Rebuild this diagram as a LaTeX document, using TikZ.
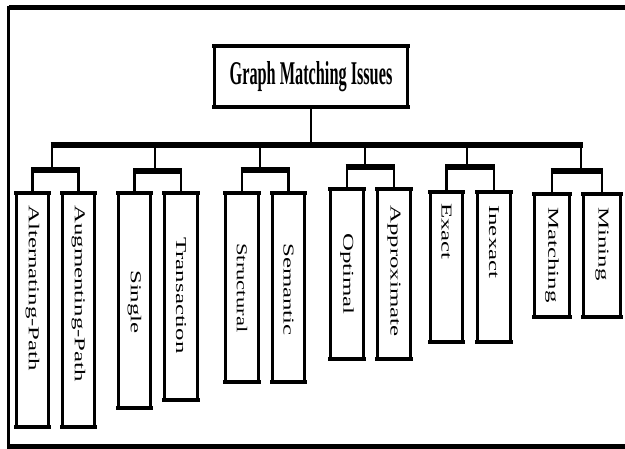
\documentclass[tikz,border=0pt]{standalone}
\usepackage{graphicx}
\usepackage{fontspec}
\setmainfont{Liberation Serif}
\usetikzlibrary{fit}

% stretch a label along its length
\newcommand{\longlbl}[2][1.65]{\scalebox{#1}[1]{#2}}

\begin{document}
\begin{tikzpicture}[x=0.75pt, y=-0.75pt,
		leaf/.style={draw, line width=2.4pt, inner sep=0pt, outer sep=0pt},
		edge/.style={line width=3.6pt, line cap=rect},
		lbl/.style={rotate=-90, anchor=west, inner sep=0pt, font=\fontsize{11.3}{13}\selectfont},
		stem/.style={line width=2pt},
		subbus/.style={line width=3.8pt, shorten <=-1pt, shorten >=-1pt},
		bus/.style={line width=4.6pt, shorten <=-1pt, shorten >=-1pt}]
		\useasboundingbox (0,0) rectangle (625,449);

		% frame
		\draw[line width=3.8pt] (8.5,7.5) -- (625,7.5);
		\draw[line width=2.4pt] (8.5,5.6) -- (8.5,448);
		\draw[line width=3.6pt] (7.3,446.5) -- (625,446.5);

		% root
		\node[leaf, fit={(214.5,46) (407.5,107)}] (top) {};
		\draw[edge] (top.north west) -- (top.north east);
		\draw[edge] (top.south west) -- (top.south east);
		\node[font=\fontsize{12.2}{14}\selectfont\bfseries] (topT) at (top.center) {\scalebox{1}[2.04]{Graph Matching Issues}};

		\coordinate (busL) at (52,145);
		\coordinate (busR) at (582,145);
		\draw[stem] (top.south) -- (top.south |- busL);
		\draw[bus] (busL) -- (busR);

		% group centres on the sub-bus
		\coordinate (s1) at (52,170);
		\coordinate (s2) at (155,171);
		\coordinate (s3) at (260,170);
		\coordinate (s4) at (365,167);
		\coordinate (s5) at (467,167);
		\coordinate (s6) at (581,171);

		% leaves
		\node[leaf, fit={(16.5,193) (48.5,427)}] (alt) {};
		\node[leaf, fit={(62.5,193) (94.5,427)}] (aug) {};
		\node[leaf, fit={(118.5,193) (150.5,408)}] (sgl) {};
		\node[leaf, fit={(164.5,193) (197.5,400)}] (trn) {};
		\node[leaf, fit={(225.5,193) (258.5,382)}] (str) {};
		\node[leaf, fit={(272.5,193) (304.5,382)}] (sem) {};
		\node[leaf, fit={(330.5,189) (363.5,359)}] (opt) {};
		\node[leaf, fit={(377.5,189) (410.5,359)}] (apx) {};
		\node[leaf, fit={(430.5,192) (462.5,342)}] (ext) {};
		\node[leaf, fit={(477.5,192) (510.5,342)}] (inx) {};
		\node[leaf, fit={(534.5,194) (569.5,317)}] (mat) {};
		\node[leaf, fit={(583.5,194) (620.5,317)}] (mng) {};

		\draw[edge] (alt.north west) -- (alt.north east) (alt.south west) -- (alt.south east);
		\draw[edge] (aug.north west) -- (aug.north east) (aug.south west) -- (aug.south east);
		\draw[edge] (sgl.north west) -- (sgl.north east) (sgl.south west) -- (sgl.south east);
		\draw[edge] (trn.north west) -- (trn.north east) (trn.south west) -- (trn.south east);
		\draw[edge] (str.north west) -- (str.north east) (str.south west) -- (str.south east);
		\draw[edge] (sem.north west) -- (sem.north east) (sem.south west) -- (sem.south east);
		\draw[edge] (opt.north west) -- (opt.north east) (opt.south west) -- (opt.south east);
		\draw[edge] (apx.north west) -- (apx.north east) (apx.south west) -- (apx.south east);
		\draw[edge] (ext.north west) -- (ext.north east) (ext.south west) -- (ext.south east);
		\draw[edge] (inx.north west) -- (inx.north east) (inx.south west) -- (inx.south east);
		\draw[edge] (mat.north west) -- (mat.north east) (mat.south west) -- (mat.south east);
		\draw[edge] (mng.north west) -- (mng.north east) (mng.south west) -- (mng.south east);

		% labels
		\node[lbl] (altT) at (32.5,205) {\longlbl{Alternating-Path}};
		\node[lbl] (augT) at (78.5,205) {\longlbl{Augmenting-Path}};
		\node[lbl] (sglT) at (134.5,270) {\longlbl{Single}};
		\node[lbl] (trnT) at (181,237) {\longlbl{Transaction}};
		\node[lbl] (strT) at (242,243) {\longlbl[1.5]{Structural}};
		\node[lbl] (semT) at (288.5,243) {\longlbl{Semantic}};
		\node[lbl] (optT) at (347,233) {\longlbl{Optimal}};
		\node[lbl] (apxT) at (394,205) {\longlbl{Approximate}};
		\node[lbl] (extT) at (446.5,203) {\longlbl{Exact}};
		\node[lbl] (inxT) at (494,205) {\longlbl{Inexact}};
		\node[lbl] (matT) at (552,207) {\longlbl{Matching}};
		\node[lbl] (mngT) at (602,207) {\longlbl{Mining}};

		% drops from the bus
		\draw[stem] (s1 |- busL) -- (s1);
		\draw[stem] (s2 |- busL) -- (s2);
		\draw[stem] (s3 |- busL) -- (s3);
		\draw[stem] (s4 |- busL) -- (s4);
		\draw[stem] (s5 |- busL) -- (s5);
		\draw[stem] (s6 |- busL) -- (s6);

		% sub-buses and stems to the leaves
		\draw[subbus] (alt.north |- s1) -- (aug.north |- s1);
		\draw[stem] (alt.north |- s1) -- (alt.north);
		\draw[stem] (aug.north |- s1) -- (aug.north);
		\draw[subbus] (sgl.north |- s2) -- (trn.north |- s2);
		\draw[stem] (sgl.north |- s2) -- (sgl.north);
		\draw[stem] (trn.north |- s2) -- (trn.north);
		\draw[subbus] (str.north |- s3) -- (sem.north |- s3);
		\draw[stem] (str.north |- s3) -- (str.north);
		\draw[stem] (sem.north |- s3) -- (sem.north);
		\draw[subbus] (opt.north |- s4) -- (apx.north |- s4);
		\draw[stem] (opt.north |- s4) -- (opt.north);
		\draw[stem] (apx.north |- s4) -- (apx.north);
		\draw[subbus] (ext.north |- s5) -- (inx.north |- s5);
		\draw[stem] (ext.north |- s5) -- (ext.north);
		\draw[stem] (inx.north |- s5) -- (inx.north);
		\draw[subbus] (mat.north |- s6) -- (mng.north |- s6);
		\draw[stem] (mat.north |- s6) -- (mat.north);
		\draw[stem] (mng.north |- s6) -- (mng.north);
	\end{tikzpicture}
\end{document}
